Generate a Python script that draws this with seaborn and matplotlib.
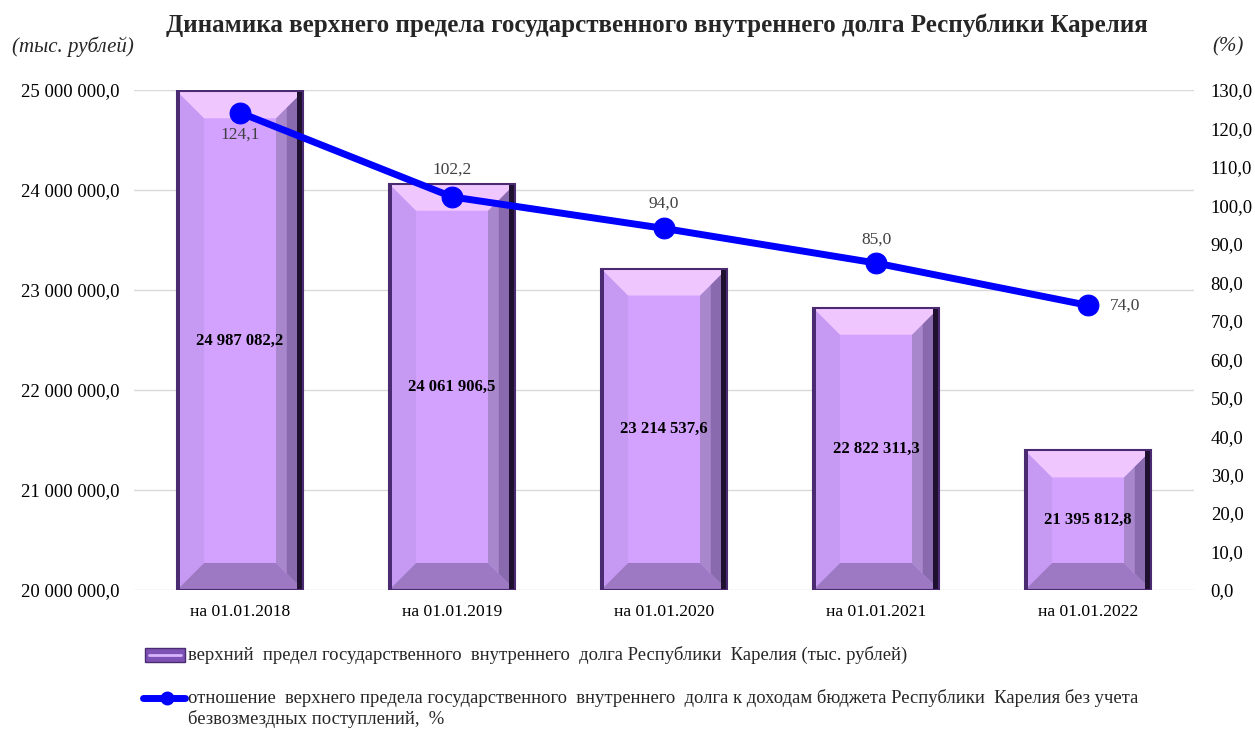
import seaborn as sns
import matplotlib.pyplot as plt
import matplotlib.patches as mpatches
import matplotlib.lines as mlines
import matplotlib.ticker as mticker
import pandas as pd
import numpy as np

# --- data ---
dates = ['на 01.01.2018', 'на 01.01.2019', 'на 01.01.2020', 'на 01.01.2021', 'на 01.01.2022']
debt_limit = [24987082.2, 24061906.5, 23214537.6, 22822311.3, 21395812.8]
debt_ratio = [124.1, 102.2, 94.0, 85.0, 74.0]

title = 'Динамика верхнего предела государственного внутреннего долга Республики Карелия'
bar_label = 'верхний  предел государственного  внутреннего  долга Республики  Карелия (тыс. рублей)'
line_label_1 = 'отношение  верхнего предела государственного  внутреннего  долга к доходам бюджета Республики  Карелия без учета'
line_label_2 = 'безвозмездных поступлений,  %'

df = pd.DataFrame({'date': dates, 'debt': debt_limit, 'ratio': debt_ratio})

W, H = 1255, 729


def fmt_ru(v, dec=1):
    s = f'{v:,.{dec}f}'
    return s.replace(',', ' ').replace('.', ',')


def fx(px):
    return px / W


def fy(py):
    return 1 - py / H


sns.set_style('white')
plt.rcParams['font.family'] = ['Liberation Serif', 'DejaVu Serif']

fig = plt.figure(figsize=(W / 100, H / 100), dpi=100)
ax = fig.add_axes([0.1068, 0.1907, 0.8446, 0.6859])

sns.barplot(data=df, x='date', y='debt', color='#d3a2ff', saturation=1,
            width=0.594, edgecolor='#4a2a70', linewidth=1.2, ax=ax, zorder=2)

ymin, ymax = 20000000, 25000000
ax.set_ylim(ymin, ymax)
ax.set_xlim(-0.5, len(dates) - 0.5)

# bevel effect on each bar
bx = 27 / 212
by = 27 * (ymax - ymin) / 500
for p in ax.patches:
    x0 = p.get_x()
    x1 = x0 + p.get_width()
    top = p.get_height()
    b = ymin
    faces = [
        ([(x0, b), (x0, top), (x0 + bx, top - by), (x0 + bx, b + by)], '#c69af2'),
        ([(x1, b), (x1, top), (x1 - bx, top - by), (x1 - bx, b + by)], '#a887cc'),
        ([(x1 - 0.6 * bx, b + 0.6 * by), (x1 - 0.6 * bx, top - 0.6 * by), (x1, top), (x1, b)], '#8a6aae'),
        ([(x0, top), (x1, top), (x1 - bx, top - by), (x0 + bx, top - by)], '#f0c6ff'),
        ([(x0, b), (x1, b), (x1 - bx, b + by), (x0 + bx, b + by)], '#9d79c4'),
    ]
    for pts, c in faces:
        ax.add_patch(mpatches.Polygon(pts, closed=True, facecolor=c, edgecolor='none', zorder=2.1))
    ax.add_patch(mpatches.Rectangle((x1 - 0.028, b), 0.028, top - b, facecolor='#1f1030',
                                    edgecolor='none', zorder=2.2))
    ax.add_patch(mpatches.Rectangle((x0, b), 0.015, top - b, facecolor='#4a2a70',
                                    edgecolor='none', zorder=2.2))
    ax.add_patch(mpatches.Rectangle((x0, b), x1 - x0, top - b, facecolor='none',
                                    edgecolor='#4a2a70', linewidth=1.5, zorder=2.3))

for i, v in enumerate(debt_limit):
    ymid = (v + ymin) / 2
    ax.text(i, ymid, fmt_ru(v), ha='center', va='center', fontsize=12,
            fontweight='bold', color='black', zorder=5)

ax.yaxis.set_major_locator(mticker.MultipleLocator(1000000))
ax.yaxis.set_major_formatter(mticker.FuncFormatter(lambda v, _: fmt_ru(v)))
ax.grid(axis='y', color='#d9d9d9', linewidth=1)
ax.set_axisbelow(True)
ax.tick_params(axis='both', length=0, labelsize=13.5, colors='black')
ax.tick_params(axis='y', pad=10.5)
ax.tick_params(axis='x', pad=10, labelsize=12.6)
ax.set_xlabel('')
ax.set_ylabel('')
for s in ax.spines.values():
    s.set_visible(False)

# ratio line on secondary axis
ax2 = ax.twinx()
x_pos = np.arange(len(dates))
sns.lineplot(x=x_pos, y=debt_ratio, color='#0000ff', linewidth=5, marker='o',
             markersize=15, markeredgecolor='#0000ff', ax=ax2, zorder=6)
ax2.set_ylim(0, 130)
ax2.yaxis.set_major_locator(mticker.MultipleLocator(10))
ax2.yaxis.set_major_formatter(mticker.FuncFormatter(lambda v, _: fmt_ru(v)))
ax2.tick_params(axis='y', length=0, labelsize=13.5, colors='black', pad=12)
ax2.grid(False)
for s in ax2.spines.values():
    s.set_visible(False)

offsets = [(0, -16), (0, 19.5), (0, 18), (0, 17), (27, 0)]
for i, v in enumerate(debt_ratio):
    dx, dy = offsets[i]
    ax2.annotate(fmt_ru(v), (i, v), xytext=(dx, dy), textcoords='offset points',
                 ha='center', va='center', fontsize=12.5, color='#404040', zorder=7)

# titles and units
fig.text(fx(657), fy(25), title, ha='center', va='center', fontsize=18, fontweight='bold')
fig.text(fx(12), fy(47), '(тыс. рублей)', ha='left', va='center', fontsize=15, style='italic')
fig.text(fx(1212), fy(47), '(%)', ha='left', va='center', fontsize=15, style='italic')

# legend drawn in figure coordinates
fig.add_artist(mpatches.Rectangle((fx(145), fy(662)), fx(40), 14 / H, transform=fig.transFigure,
                                  facecolor='#7d52b4', edgecolor='#4a2a70', linewidth=1))
fig.add_artist(mlines.Line2D([fx(149), fx(181)], [fy(655), fy(655)], transform=fig.transFigure,
                             color='#d8b4ff', linewidth=2))
fig.add_artist(mlines.Line2D([fx(143), fx(185)], [fy(698), fy(698)], transform=fig.transFigure,
                             color='#0000ff', linewidth=5, solid_capstyle='round'))
fig.add_artist(mlines.Line2D([fx(167)], [fy(698)], transform=fig.transFigure,
                             color='#0000ff', marker='o', markersize=9))
fig.text(fx(188), fy(655), bar_label, ha='left', va='center', fontsize=13.4)
fig.text(fx(188), fy(698), line_label_1, ha='left', va='center', fontsize=13.4)
fig.text(fx(188), fy(719), line_label_2, ha='left', va='center', fontsize=13.4)

fig.savefig('out.png', dpi=100)
